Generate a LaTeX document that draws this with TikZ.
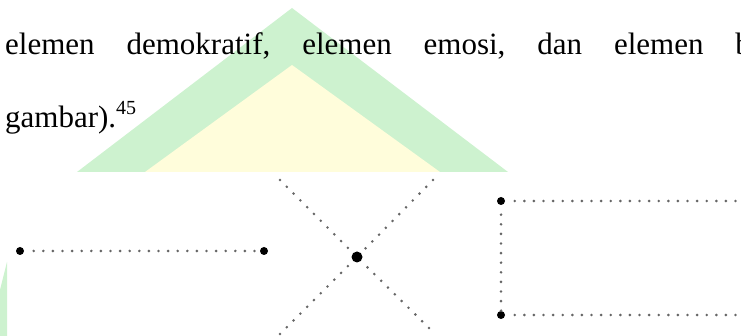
\documentclass[tikz,border=0pt]{standalone}
\usepackage{fontspec}
\setmainfont{Liberation Serif}
\usetikzlibrary{positioning}
\definecolor{wmgreen}{RGB}{205,242,207}
\definecolor{wmyellow}{RGB}{255,253,219}

\begin{document}
\begin{tikzpicture}[
  x=1pt, y=1pt,
  word/.style={anchor=base west, inner sep=0pt, font=\fontsize{31}{37}\selectfont},
  bigdot/.style={circle, fill=black, inner sep=0pt, minimum size=8pt},
  middot/.style={circle, fill=black, inner sep=0pt, minimum size=11pt},
  dotline/.style={line width=2.9pt, black!60, line cap=round, dash pattern=on 0pt off 9.6pt, dash phase=0.1pt},
  armline/.style={line width=2.9pt, black!60, line cap=round, dash pattern=on 0pt off 9.6pt}
]
\useasboundingbox (0,0) rectangle (741,336);

% watermark behind the text
\fill[wmgreen] (292,328) -- (77,164) -- (508,164) -- cycle;
\fill[wmyellow] (292,271) -- (145,164) -- (440,164) -- cycle;
\fill[wmgreen] (0,46) -- (7,74) -- (7,0) -- (0,0) -- cycle;

% text lines
\node[word] (w1) at (5,281) {elemen};
\node[word, base right=31.5pt of w1] (w2) {demokratif,};
\node[word, base right=31.5pt of w2] (w3) {elemen};
\node[word, base right=31.5pt of w3] (w4) {emosi,};
\node[word, base right=31.5pt of w4] (w5) {dan};
\node[word, base right=31.5pt of w5] (w6) {elemen};
\node[word, base right=31.5pt of w6] (w7) {b};
\node[word] (w8) at (5,208) {gambar).\raisebox{13.5pt}{\fontsize{20}{20}\selectfont 45}};

% line segment
\node[bigdot] (la) at (20,85) {};
\node[bigdot] (lb) at (264,85) {};
\draw[dotline] (la) -- (lb);

% crossing lines
\node[middot] (xc) at (357,79) {};
\coordinate (xul) at (280,156);
\coordinate (xur) at (433,156);
\coordinate (xll) at (280,2);
\coordinate (xlr) at (429,8);
\foreach \e in {xul, xur, xll, xlr}
  \draw[armline] (\e) -- (xc);

% open rectangle
\node[bigdot] (rtl) at (501,135) {};
\node[bigdot] (rbl) at (501,21) {};
\coordinate (rtr) at (748,135);
\coordinate (rbr) at (748,21);
\draw[dotline] (rtl) -- (rtr);
\draw[dotline] (rbl) -- (rbr);
\draw[dotline] (rtl) -- (rbl);

\end{tikzpicture}
\end{document}
